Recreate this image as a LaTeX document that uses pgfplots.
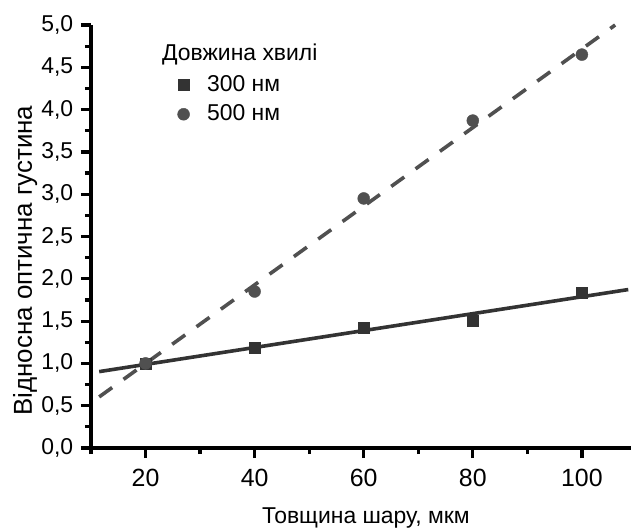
\documentclass[border=0pt]{standalone}
\usepackage{pgfplots}
\pgfplotsset{compat=1.18}
\usepackage{fontspec}
\setmainfont{Liberation Sans}
\definecolor{sqc}{HTML}{333333}
\definecolor{cic}{HTML}{505050}
\begin{document}
\fontsize{23}{27}\selectfont
\begin{tikzpicture}
\begin{axis}[
  scale only axis, width=540bp, height=423bp,
  xmin=10, xmax=109, ymin=0, ymax=5,
  axis lines*=left,
  axis line style={line width=3.4bp, black},
  xtick={20,40,60,80,100}, minor xtick={10,30,50,70,90},
  ytick={0,0.5,...,5}, minor ytick={0.25,0.75,...,4.75},
  tick align=outside, major tick length=10bp, minor tick length=6bp,
  every tick/.style={line width=3.2bp, black},
  yticklabel style={/pgf/number format/use comma, /pgf/number format/fixed, /pgf/number format/fixed zerofill, /pgf/number format/precision=1, xshift=0bp, font=\fontsize{23}{27}\selectfont},
  /pgf/number format/assume math mode=true,
  xticklabel style={yshift=-3bp, font=\fontsize{25}{29}\selectfont},
  xlabel={Товщина шару, мкм},
  ylabel={Відносна оптична густина},
  xlabel style={font=\fontsize{23}{27}\selectfont, at={(axis description cs:0.509,-0.1773)}, anchor=base},
  ylabel style={font=\fontsize{26}{30}\selectfont, at={(axis description cs:-0.1093,0.443)}, anchor=base, rotate=0},
  legend style={draw=none, fill=none, at={(axis description cs:0.160,0.882)}, anchor=north west,
    font=\fontsize{23}{27}\selectfont, row sep=10bp, inner sep=0pt, nodes={inner sep=0pt}},
  legend cell align=left,
  legend image code/.code={\draw[#1] plot coordinates {(5.5bp,0bp)}; \path[draw=none, fill=none] (0bp,-1bp) rectangle (29bp,1bp);},
  clip=false,
]
\addplot[only marks, mark=square*, mark size=5.5bp, color=sqc] coordinates {
  (20,1.0) (40,1.18) (60,1.42) (80,1.50) (100,1.84)};
\addlegendentry{300 нм}
\addplot[only marks, mark=*, mark size=6bp, color=cic] coordinates {
  (20,1.0) (40,1.85) (60,2.95) (80,3.87) (100,4.65)};
\addlegendentry{500 нм}
\addplot[sqc, line width=3.6bp, forget plot] coordinates {(11.5,0.903) (108.5,1.873)};
\addplot[cic, line width=3.6bp, dash pattern=on 16bp off 14bp, forget plot] coordinates {(11.5,0.604) (106.1,5.0)};
\node[anchor=base west, inner sep=0pt] at (rel axis cs:0.1315,0.917) {Довжина хвилі};
\coordinate (sw) at (rel axis cs:0,0);
\coordinate (ne) at (rel axis cs:1,1);
\end{axis}
\pgfresetboundingbox
\path ([shift={(-91bp,-80bp)}]sw) rectangle ([shift={(0bp,25bp)}]ne);
\end{tikzpicture}
\end{document}
